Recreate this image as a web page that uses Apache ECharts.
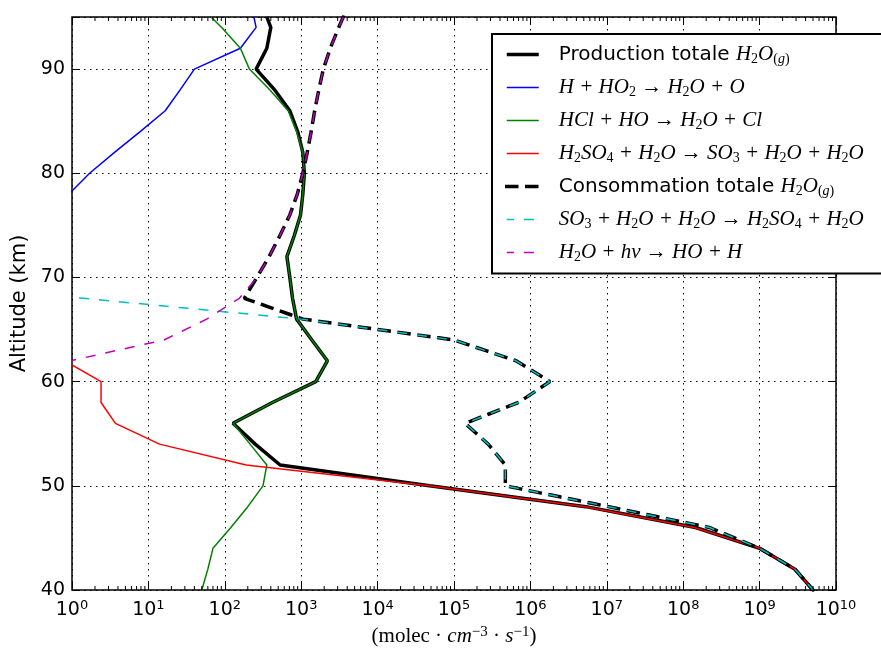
<!DOCTYPE html>
<html><head><meta charset="utf-8">
<script src="https://cdn.jsdelivr.net/npm/echarts@6/dist/echarts.min.js"></script>
<style>html,body{margin:0;padding:0;background:#fff}#c{width:881px;height:653px}</style>
</head><body><div id="c"></div>
<script>
// Altitude levels (km)
const altitudes = [40,42,44,46,48,50,52,54,56,58,60,62,64,66,68,70,72,74,76,78,80,82,84,86,88,90,92,94,95];
// Rates (molec cm-3 s-1)
const prodTotal = [5.0e9,2.9e9,1.0e9,1.45e8,5.3e6,4.8e4,530,250,128,420,1550,2200,1380,870,770,710,650,810,980,1050,1100,1050,900,710,450,257,355,400,355];
const rateHHO2 = [null,null,null,null,null,null,null,null,null,null,null,null,null,null,null,null,null,null,0.001,0.91,1.7,3.6,7.8,16.6,26,40,160,257,240];
const rateHClHO = [50,60,70,120,200,316,355,214,128,420,1550,2200,1380,870,770,710,650,810,980,1050,1100,1050,870,675,390,210,160,91,66];
const rateH2SO4 = [5.0e9,2.9e9,1.0e9,1.4e8,5.2e6,4.7e4,190,14,3.7,2.4,2.4,0.8,0.001,null,null,null,null,null,null,null,null,null,null,null,null,null,null,null,null];
const consTotal = [5.0e9,2.9e9,1.0e9,2.2e8,1.05e7,4.7e5,4.7e5,2.8e5,1.4e5,7.0e5,1.8e6,6.5e5,1.0e5,1060,180,263,380,525,710,890,1050,1200,1350,1500,1700,1950,2400,3100,3550];
const rateSO3 = [5.0e9,2.9e9,1.0e9,2.2e8,1.05e7,4.7e5,4.7e5,2.8e5,1.4e5,7.0e5,1.8e6,6.5e5,1.0e5,1000,1.4,0.001,null,null,null,null,null,null,null,null,null,null,null,null,null];
const rateHnu = [null,null,null,null,null,null,null,null,null,null,0.001,0.95,16,58,155,263,380,525,710,890,1050,1200,1350,1500,1700,1950,2400,3100,3550];

const yTickLabels = [40,50,60,70,80,90];
const xDecades = [0,1,2,3,4,5,6,7,8,9,10];
const minorMultipliers = [2,3,4,5,6,7,8,9];

const seriesNames = [
  'Production totale H2O(g)',
  'H + HO2 → H2O + O',
  'HCl + HO → H2O + Cl',
  'H2SO4 + H2O → SO3 + H2O + H2O',
  'Consommation totale H2O(g)',
  'SO3 + H2O + H2O → H2SO4 + H2O',
  'H2O + hν → HO + H'
];
const legendRich = {
  'Production totale H2O(g)': '{gap| }{t|Production totale }{m|H}{d|2}{m|O}{gp|(}{gi|g}{gp|)}',
  'H + HO2 → H2O + O': '{gap| }{m|H + HO}{d|2}{m| → H}{d|2}{m|O + O}',
  'HCl + HO → H2O + Cl': '{gap| }{m|HCl + HO → H}{d|2}{m|O + Cl}',
  'H2SO4 + H2O → SO3 + H2O + H2O': '{gap| }{m|H}{d|2}{m|SO}{d|4}{m| + H}{d|2}{m|O → SO}{d|3}{m| + H}{d|2}{m|O + H}{d|2}{m|O}',
  'Consommation totale H2O(g)': '{gap| }{t|Consommation totale }{m|H}{d|2}{m|O}{gp|(}{gi|g}{gp|)}',
  'SO3 + H2O + H2O → H2SO4 + H2O': '{gap| }{m|SO}{d|3}{m| + H}{d|2}{m|O + H}{d|2}{m|O → H}{d|2}{m|SO}{d|4}{m| + H}{d|2}{m|O}',
  'H2O + hν → HO + H': '{gap| }{m|H}{d|2}{m|O + hν → HO + H}'
};

// pairs ordered from the top altitude downward
function toPairs(vals){
  const out = [];
  vals.forEach((v,i)=>{ if (v != null) out.push([v, altitudes[i]]); });
  return out.reverse();
}

const yMin = 40, yMax = 95;
const minorTicks = [];
xDecades.slice(0,-1).forEach(d => minorMultipliers.forEach(m => minorTicks.push([m*Math.pow(10,d), yMin])));

const dash = [10,10];
function lineSeries(name, vals, color, width, type, cap){
  return {
    name, type:'line', data: toPairs(vals), symbol:'none', showSymbol:false,
    lineStyle:{color, width, type: type || 'solid', cap: cap || 'butt'},
    itemStyle:{color}, clip:true, emphasis:{disabled:true}, z:2
  };
}

const chart = echarts.init(document.getElementById('c'), null, {renderer:'canvas'});
const serifFam = 'Liberation Serif';
chart.setOption({
  animation:false,
  backgroundColor:'#fff',
  grid:{left:72, right:45, top:17, bottom:63, show:true, borderColor:'#000', borderWidth:1.5, backgroundColor:'transparent'},
  xAxis:[{
    type:'log', logBase:10, min:1, max:1e10, interval:1, splitNumber:10, position:'bottom',
    axisLine:{show:false},
    axisTick:{show:true, inside:true, length:8, lineStyle:{color:'#000', width:1}},
    axisLabel:{show:true, margin:9, color:'#000', showMaxLabel:true, showMinLabel:true, hideOverlap:false,
      formatter: v => '{b|10}{e|' + Math.round(Math.log10(v)) + '}',
      rich:{ b:{fontFamily:'DejaVu Sans', fontSize:19, lineHeight:22, color:'#000'},
             e:{fontFamily:'DejaVu Sans', fontSize:13, lineHeight:10, verticalAlign:'top', color:'#000'} }},
    splitLine:{show:true, lineStyle:{color:'#000', width:1, type:[1.5,4.5]}},
    name:'{p|(molec · }{i|cm}{s|−3}{p| · }{i|s}{s|−1}{p|)}',
    nameLocation:'middle', nameGap:33,
    nameTextStyle:{rich:{
      p:{fontFamily:serifFam, fontSize:21, lineHeight:24, color:'#000'},
      i:{fontFamily:serifFam, fontStyle:'italic', fontSize:21, lineHeight:24, color:'#000'},
      s:{fontFamily:serifFam, fontSize:15, lineHeight:12, verticalAlign:'top', color:'#000'}
    }}
  },{
    type:'log', logBase:10, min:1, max:1e10, interval:1, splitNumber:10, position:'top',
    axisLine:{show:false},
    axisTick:{show:true, inside:true, length:8, lineStyle:{color:'#000', width:1}},
    axisLabel:{show:false}, splitLine:{show:false}
  }],
  yAxis:[{
    type:'value', min:yMin, max:yMax, interval:10, position:'left',
    axisLine:{show:false},
    axisTick:{show:true, inside:true, length:8, lineStyle:{color:'#000', width:1}},
    axisLabel:{show:true, margin:7, color:'#000', fontFamily:'DejaVu Sans', fontSize:19,
      formatter: v => yTickLabels.indexOf(v) >= 0 ? String(v) : ''},
    splitLine:{show:true, lineStyle:{color:'#000', width:1, type:[1.5,4.5]}},
    name:'Altitude (km)', nameLocation:'middle', nameGap:37, nameRotate:90,
    nameTextStyle:{fontFamily:'DejaVu Sans', fontSize:21, color:'#000'}
  },{
    type:'value', min:yMin, max:yMax, interval:10, position:'right',
    axisLine:{show:false},
    axisTick:{show:true, inside:true, length:8, lineStyle:{color:'#000', width:1}},
    axisLabel:{show:false}, splitLine:{show:false}
  }],
  legend:{
    show:true, orient:'vertical', left:492, top:34,
    padding:[10,30,9,13], itemGap:10.5, itemWidth:32, itemHeight:14,
    backgroundColor:'#fff', borderColor:'#000', borderWidth:2, borderRadius:0,
    selectedMode:false,
    itemStyle:{opacity:0, borderWidth:0},
    data: seriesNames.map((n,i)=>({name:n, itemStyle:{opacity:0, borderWidth:0}, lineStyle:{width:(i===0||i===4)?3.5:1.5}})),
    formatter: n => legendRich[n],
    textStyle:{color:'#000', rich:{
      gap:{width:15, fontSize:20, lineHeight:24},
      t:{fontFamily:'DejaVu Sans', fontSize:20, lineHeight:24, color:'#000'},
      m:{fontFamily:serifFam, fontStyle:'italic', fontSize:21, lineHeight:24, color:'#000'},
      d:{fontFamily:serifFam, fontSize:14, lineHeight:12, verticalAlign:'bottom', color:'#000'},
      gp:{fontFamily:serifFam, fontSize:14, lineHeight:12, verticalAlign:'bottom', color:'#000'},
      gi:{fontFamily:serifFam, fontStyle:'italic', fontSize:14, lineHeight:12, verticalAlign:'bottom', color:'#000'}
    }}
  },
  series:[
    lineSeries(seriesNames[0], prodTotal, '#000000', 3.5),
    lineSeries(seriesNames[1], rateHHO2, '#0000ff', 1.5),
    lineSeries(seriesNames[2], rateHClHO, '#008000', 1.5),
    lineSeries(seriesNames[3], rateH2SO4, '#ff0000', 1.5),
    lineSeries(seriesNames[4], consTotal, '#000000', 3.5, dash, 'square'),
    lineSeries(seriesNames[5], rateSO3, '#00bfbf', 1.5, dash),
    lineSeries(seriesNames[6], rateHnu, '#bf00bf', 1.5, dash),
    {
      type:'custom', name:'minorTicks', silent:true, data:minorTicks, z:3,
      renderItem:(params, api) => {
        const v = api.value(0);
        const pb = api.coord([v, yMin]);
        const pt = api.coord([v, yMax]);
        return {type:'group', children:[
          {type:'line', shape:{x1:pb[0], y1:pb[1], x2:pb[0], y2:pb[1]-4}, style:{stroke:'#000', lineWidth:1}},
          {type:'line', shape:{x1:pt[0], y1:pt[1], x2:pt[0], y2:pt[1]+4}, style:{stroke:'#000', lineWidth:1}}
        ]};
      }
    }
  ]
});

// Align the dash phase of the SO3 series with the total-consumption curve it overlays below 66 km
function lengthTo(pairs, stopAlt){
  let L = 0;
  let prev = chart.convertToPixel({gridIndex:0}, pairs[0]);
  for (let i = 1; i < pairs.length; i++){
    const p = chart.convertToPixel({gridIndex:0}, pairs[i]);
    L += Math.hypot(p[0]-prev[0], p[1]-prev[1]);
    prev = p;
    if (pairs[i][1] === stopAlt) break;
  }
  return L;
}
const period = dash[0] + dash[1];
const off = ((lengthTo(toPairs(consTotal), 66) - lengthTo(toPairs(rateSO3), 66)) % period + period) % period;
chart.setOption({series:[{},{},{},{},{},{lineStyle:{dashOffset: off}}]});
</script>
</body></html>
